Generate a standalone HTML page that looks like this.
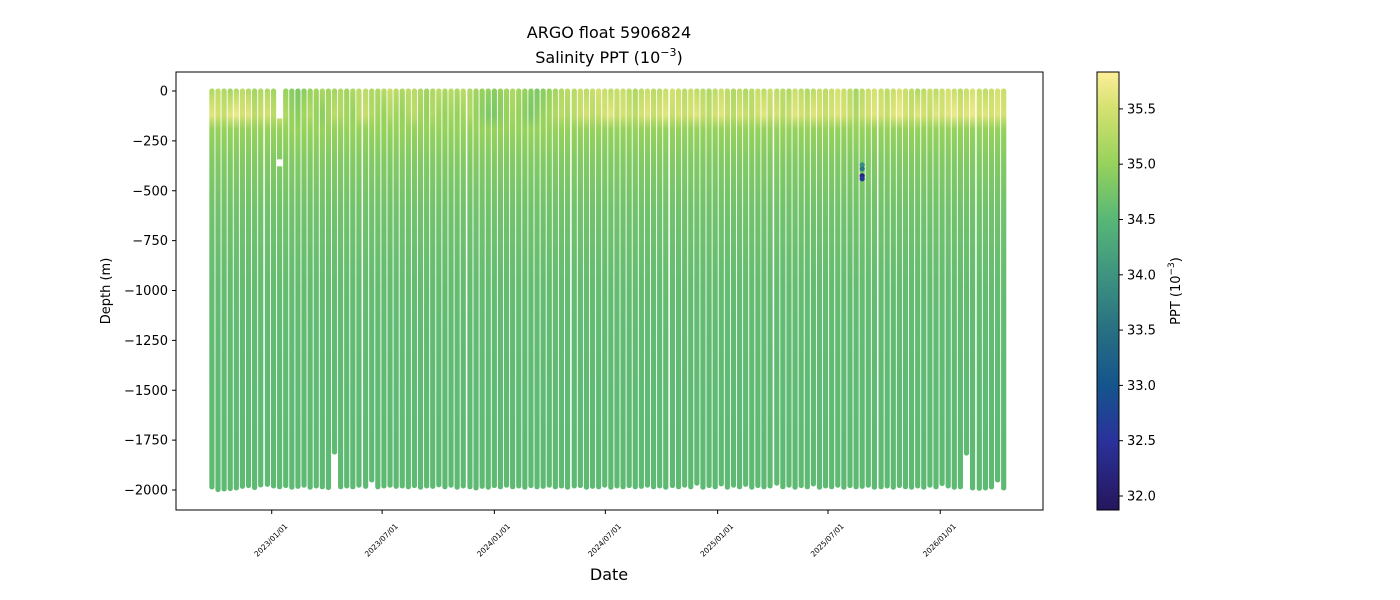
<!DOCTYPE html>
<html><head><meta charset="utf-8"><style>
body{margin:0;background:#fff}
svg{display:block;font-family:"DejaVu Sans","Liberation Sans",sans-serif}
</style></head><body>
<svg id="chart" width="1400" height="600" viewBox="0 0 1400 600" xmlns="http://www.w3.org/2000/svg">
<defs id="defs"></defs>
<text x="609" y="38" font-size="16" text-anchor="middle" fill="#000">ARGO float 5906824</text>
<text x="609" y="63" font-size="16" text-anchor="middle" fill="#000">Salinity PPT (10<tspan font-size="11" dy="-7">−3</tspan><tspan dy="7">)</tspan></text>
<g id="plot"></g>
<rect x="176" y="72" width="867" height="438" fill="none" stroke="#000" stroke-width="1"/>
<g id="yaxis"></g>
<g id="xaxis"></g>
<text transform="translate(110,291) rotate(-90)" font-size="13" text-anchor="middle">Depth (m)</text>
<text x="609" y="580" font-size="16" text-anchor="middle">Date</text>
<g id="cbar"></g>
<text transform="translate(1180,291) rotate(-90)" font-size="13" text-anchor="middle">PPT (10<tspan font-size="9" dy="-6">−3</tspan><tspan dy="6">)</tspan></text>
</svg>
<script>
const profileDays=[-98,-88,-78,-68,-58,-48,-38,-28,-18,-7,3,13,23,33,43,53,63,73,83,93,103,113,123,133,143,154,164,174,184,194,204,214,224,234,244,254,264,274,284,294,304,314,325,335,345,355,365,375,385,395,405,415,425,435,445,455,465,475,485,496,506,516,526,536,546,556,566,576,586,596,606,616,626,636,646,657,667,677,687,697,707,717,727,737,747,757,767,777,787,797,807,817,828,838,848,858,868,878,888,898,908,918,928,938,948,958,968,978,988,999,1009,1019,1029,1039,1049,1059,1069,1079,1089,1099,1109,1119,1129,1139,1149,1160,1170,1180,1190,1200];
const maxDepth=[1985,1998,1995,1993,1990,1982,1978,1988,1975,1972,1980,1984,1978,1986,1982,1976,1986,1980,1984,1988,1810,1984,1980,1984,1976,1982,1950,1984,1980,1976,1982,1980,1984,1978,1986,1980,1982,1974,1984,1976,1986,1980,1984,1990,1982,1986,1978,1984,1976,1984,1980,1986,1978,1984,1982,1976,1984,1980,1986,1980,1978,1986,1982,1984,1976,1986,1980,1984,1978,1984,1982,1976,1984,1980,1986,1978,1984,1976,1984,1966,1986,1978,1984,1970,1986,1976,1984,1972,1986,1978,1984,1980,1966,1984,1976,1986,1978,1984,1970,1986,1980,1984,1976,1986,1978,1984,1982,1976,1986,1984,1980,1986,1978,1984,1986,1980,1986,1976,1984,1968,1980,1986,1984,1815,1990,1992,1990,1985,1950,1990];
const sal0=[35.2,35.3,35.2,35.1,35.2,35.3,35.2,35.1,35.2,35.2,35.1,35.2,35.0,34.9,34.8,34.9,35.0,35.1,35.2,35.1,35.1,35.2,35.1,35.2,35.3,35.3,35.2,35.2,35.3,35.4,35.3,35.2,35.3,35.3,35.2,35.1,35.2,35.3,35.2,35.3,35.2,35.3,35.2,35.1,35.0,35.0,34.9,35.0,35.1,35.2,35.1,35.0,34.9,34.8,34.9,35.0,35.1,35.2,35.3,35.3,35.4,35.3,35.4,35.5,35.4,35.3,35.4,35.4,35.3,35.2,35.3,35.4,35.3,35.3,35.4,35.5,35.4,35.3,35.4,35.3,35.3,35.2,35.3,35.4,35.3,35.2,35.3,35.2,35.3,35.4,35.3,35.4,35.3,35.3,35.2,35.4,35.3,35.2,35.3,35.4,35.3,35.4,35.5,35.4,35.3,35.1,35.3,35.4,35.5,35.4,35.3,35.4,35.5,35.4,35.3,35.2,35.3,35.4,35.3,35.4,35.5,35.4,35.3,35.4,35.5,35.4,35.3,35.4,35.5,35.4];
const sal130=[35.6,35.5,35.4,35.6,35.7,35.5,35.6,35.3,35.4,35.5,35.3,35.5,35.2,35.0,34.9,35.1,35.2,35.0,34.9,35.1,35.3,35.2,35.1,35.0,35.3,35.4,35.2,35.1,35.0,35.2,35.1,35.0,35.2,35.3,35.1,35.0,35.2,35.1,35.0,35.1,35.0,35.1,35.2,35.0,34.9,34.8,34.8,34.9,35.0,35.1,35.0,34.9,34.8,34.9,35.0,35.1,35.2,35.3,35.2,35.3,35.4,35.5,35.3,35.4,35.5,35.6,35.4,35.5,35.4,35.3,35.5,35.6,35.4,35.5,35.6,35.4,35.5,35.4,35.5,35.6,35.4,35.3,35.5,35.6,35.4,35.3,35.5,35.4,35.3,35.5,35.6,35.4,35.5,35.3,35.4,35.6,35.5,35.4,35.6,35.5,35.4,35.5,35.6,35.5,35.4,35.2,35.4,35.5,35.6,35.5,35.4,35.6,35.7,35.5,35.4,35.6,35.5,35.4,35.6,35.5,35.6,35.7,35.5,35.6,35.7,35.5,35.6,35.5,35.6,35.5];
const sharedDepths=[200,350,600,1000,1500,2000];
const sharedSal=[35.0,34.85,34.7,34.6,34.56,34.55];
const gapProfile=[11,11];
const gapFrom=[0,330];
const gapTo=[150,390];
const anomalyProfile=[106,106,106,106];
const anomalyDepth=[370,390,425,440];
const anomalySal=[33.9,33.6,32.2,32.6];
const yTicks=[0,-250,-500,-750,-1000,-1250,-1500,-1750,-2000];
const xTickLabels=["2023/01/01","2023/07/01","2024/01/01","2024/07/01","2025/01/01","2025/07/01","2026/01/01"];
const xTickDays=[0,181,365,547,731,912,1096];
const cbTicks=[32.0,32.5,33.0,33.5,34.0,34.5,35.0,35.5];
const cmin=31.87,cmax=35.83;

const NS="http://www.w3.org/2000/svg";
function xs(d){return 271.7+d*0.6100;}
function ys(depth){return 91+depth*0.1995;}
function cy(v){return 496-(v-32.0)*110.6;}
const cstops=[[31.87,[38,22,92]],[32.5,[42,50,155]],[33.0,[20,85,140]],[33.5,[40,112,130]],[34.0,[62,148,128]],[34.5,[88,183,118]],[35.0,[150,210,92]],[35.5,[212,225,112]],[35.83,[253,238,153]]];
function cmap(v){
  if(v<=cstops[0][0])return "rgb("+cstops[0][1]+")";
  for(let i=1;i<cstops.length;i++){
    if(v<=cstops[i][0]){const a=cstops[i-1],b=cstops[i];const t=(v-a[0])/(b[0]-a[0]);
      return "rgb("+a[1].map((c,k)=>Math.round(c+(b[1][k]-c)*t)).join(",")+")";}
  }
  return "rgb("+cstops[cstops.length-1][1]+")";
}
function el(tag,attrs,parent){const e=document.createElementNS(NS,tag);for(const k in attrs)e.setAttribute(k,attrs[k]);parent.appendChild(e);return e;}
const defs=document.getElementById('defs');
const plot=document.getElementById('plot');
const W=5.2;
profileDays.forEach((d,i)=>{
  const depths=[0,60,130].concat(sharedDepths);
  const sals=[sal0[i],(sal0[i]+sal130[i])/2,sal130[i]].concat(sharedSal);
  const md=maxDepth[i];
  const g=el('linearGradient',{id:'g'+i,x1:0,y1:0,x2:0,y2:1,gradientUnits:'objectBoundingBox'},defs);
  depths.forEach((dp,k)=>{ if(dp<=md+50){el('stop',{offset:Math.min(1,dp/md),'stop-color':cmap(sals[k])},g);} });
  const x=xs(d);
  const r=el('rect',{x:x-W/2,y:ys(0)-2.5,width:W,height:ys(md)-ys(0)+5,rx:2.5,fill:'url(#g'+i+')'},plot);
  
  
});
gapProfile.forEach((p,k)=>{
  const x=xs(profileDays[p]);
  const r=el('rect',{x:x-W/2-0.5,y:ys(gapFrom[k])-(gapFrom[k]===0?3:-2.5),width:W+1,height:ys(gapTo[k])-ys(gapFrom[k])-(gapFrom[k]===0?-0.5:5),fill:'#fff'},plot);
  
  
});
anomalyProfile.forEach((p,k)=>{
  const c=el('circle',{cx:xs(profileDays[p]),cy:ys(anomalyDepth[k]),r:2.6,fill:cmap(anomalySal[k])},plot);
  
  
});
const yax=document.getElementById('yaxis');
yTicks.forEach(v=>{
  const y=ys(-v);
  el('line',{x1:172,x2:176,y1:y,y2:y,stroke:'#000'},yax);
  const t=el('text',{x:168,y:y+4.5,'font-size':13,'text-anchor':'end'},yax);
  t.textContent=(v<0?'−':'')+Math.abs(v);
  
  
});
const xax=document.getElementById('xaxis');
xTickDays.forEach((d,i)=>{
  const x=xs(d);
  el('line',{x1:x,x2:x,y1:510,y2:514,stroke:'#000'},xax);
  const t=el('text',{transform:'translate('+(x+1)+',542) rotate(-45)','font-size':7.5,'text-anchor':'middle'},xax);
  t.textContent=xTickLabels[i];
  
  
});
const cb=document.getElementById('cbar');
const cg=el('linearGradient',{id:'cbg',x1:0,y1:1,x2:0,y2:0},defs);
cstops.forEach(s=>{el('stop',{offset:(s[0]-cmin)/(cmax-cmin),'stop-color':'rgb('+s[1]+')'},cg);});
el('rect',{x:1097,y:72,width:22,height:438,fill:'url(#cbg)',stroke:'#000','stroke-width':1},cb);
cbTicks.forEach(v=>{
  const y=cy(v);
  el('line',{x1:1119,x2:1123,y1:y,y2:y,stroke:'#000'},cb);
  const t=el('text',{x:1127,y:y+4.5,'font-size':13},cb);
  t.textContent=v.toFixed(1);
  
  
});
</script>
</body></html>
